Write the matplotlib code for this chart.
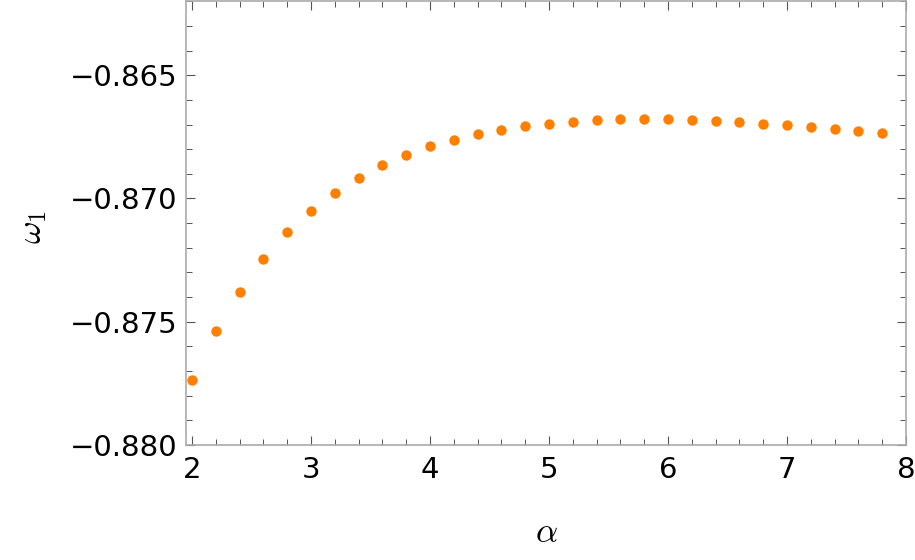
import matplotlib

matplotlib.use("Agg")

import matplotlib.pyplot as plt  # noqa: E402
from matplotlib.ticker import MultipleLocator, FuncFormatter  # noqa: E402

# data
alpha = [2.0, 2.2, 2.4, 2.6, 2.8, 3.0, 3.2, 3.4, 3.6, 3.8,
         4.0, 4.2, 4.4, 4.6, 4.8, 5.0, 5.2, 5.4, 5.6, 5.8,
         6.0, 6.2, 6.4, 6.6, 6.8, 7.0, 7.2, 7.4, 7.6, 7.8]
omega1 = [-0.87736, -0.87538, -0.87378, -0.87246, -0.87137, -0.87050,
          -0.86977, -0.86916, -0.86865, -0.86824, -0.86789, -0.86762,
          -0.86739, -0.86721, -0.86708, -0.86697, -0.86689, -0.86683,
          -0.86679, -0.86678, -0.86679, -0.86682, -0.86686, -0.86691,
          -0.86697, -0.86704, -0.86710, -0.86717, -0.86727, -0.86736]

DOT_COLOR = "#ff8000"
FRAME_COLOR = "#aaaaaa"
TICK_COLOR = "#555555"

plt.rcParams["mathtext.fontset"] = "cm"

fig = plt.figure(figsize=(9.15, 5.6), dpi=100)
ax = fig.add_axes([0.2033, 0.2054, 0.7869, 0.7928])

ax.plot(alpha, omega1, "o", color=DOT_COLOR, markersize=7.5,
        markeredgewidth=0)

ax.set_xlim(1.95, 8.0)
ax.set_ylim(-0.880, -0.86199)

ax.xaxis.set_major_locator(MultipleLocator(1))
ax.xaxis.set_minor_locator(MultipleLocator(0.2))
ax.yaxis.set_major_locator(MultipleLocator(0.005))
ax.yaxis.set_minor_locator(MultipleLocator(0.001))
# echtes Minuszeichen wie im Original
ax.yaxis.set_major_formatter(
    FuncFormatter(lambda v, _: f"{v:.3f}".replace("-", "\u2212")))

ax.tick_params(which="both", direction="in", top=True, right=True,
               colors=TICK_COLOR, labelcolor="black", labelsize=21)
ax.tick_params(which="major", length=6.5, width=0.8, pad=6)
ax.tick_params(which="minor", length=4, width=0.7)
ax.tick_params(axis="x", which="major", pad=8)

for spine in ax.spines.values():
    spine.set_color(FRAME_COLOR)
    spine.set_linewidth(1.2)

ax.set_xlabel(r"$\alpha$", fontsize=25)
ax.set_ylabel(r"$\omega_1$", fontsize=25)
ax.xaxis.set_label_coords(0.50, -0.196)
ax.xaxis.label.set_va("center")
ax.yaxis.set_label_coords(-0.214, 0.491)
ax.yaxis.label.set_va("center")

fig.savefig("out.png", dpi=100, facecolor="white")
plt.close(fig)
